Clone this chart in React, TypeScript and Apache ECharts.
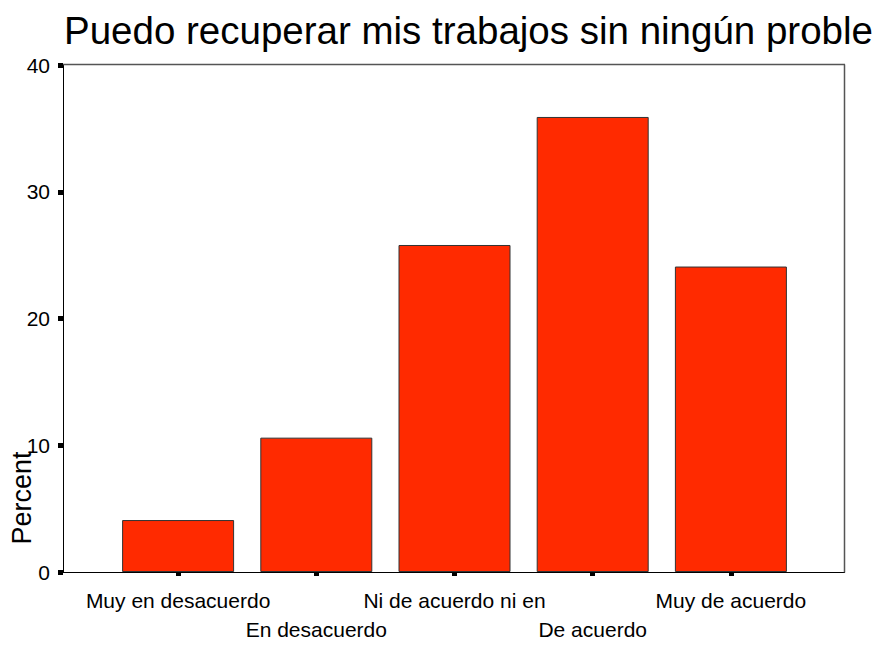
import React, { useEffect, useRef } from "react";
import * as echarts from "echarts";

const titleText = "Puedo recuperar mis trabajos sin ningún proble";
const categories = [
  "Muy en desacuerdo",
  "En desacuerdo",
  "Ni de acuerdo ni en",
  "De acuerdo",
  "Muy de acuerdo",
];
const percents = [4.1, 10.6, 25.8, 35.9, 24.1];
const yTicks = [0, 10, 20, 30, 40];
const yLabel = "Percent";

const FONT = "Arial, 'Liberation Sans', Helvetica, sans-serif";

export default function App() {
  const ref = useRef<HTMLDivElement>(null);
  useEffect(() => {
    if (!ref.current) return;
    const chart = echarts.init(ref.current, null, { renderer: "svg" });
    chart.setOption({
      animation: false,
      backgroundColor: "#ffffff",
      title: {
        text: titleText,
        left: 59,
        top: 6,
        textStyle: { fontFamily: FONT, fontSize: 38.5, fontWeight: "normal", color: "#000" },
      },
      grid: { left: 109, right: 87, top: 65, bottom: 75, containLabel: false, outerBoundsMode: "none" },
      xAxis: {
        type: "category",
        data: categories,
        axisLine: { show: false },
        axisTick: {
          show: true,
          alignWithLabel: true,
          length: 4,
          lineStyle: { color: "#000", width: 5 },
        },
        axisLabel: {
          interval: 0,
          fontFamily: FONT,
          fontSize: 21,
          color: "#000",
          margin: 14,
          lineHeight: 29,
          formatter: (v: string, i: number) => (i % 2 ? "\n" + v : v),
        },
      },
      yAxis: {
        type: "value",
        min: yTicks[0],
        max: yTicks[yTicks.length - 1],
        interval: 10,
        offset: 46,
        splitLine: { show: false },
        axisLine: { show: true, lineStyle: { color: "#000", width: 1 } },
        axisTick: { show: true, length: 5, lineStyle: { color: "#000", width: 5 } },
        axisLabel: { fontFamily: FONT, fontSize: 21, color: "#000", margin: 13 },
      },
      graphic: [
        { type: "line", shape: { x1: 63, y1: 572.5, x2: 845, y2: 572.5 }, style: { stroke: "#000", lineWidth: 1 }, z: 10 },
        { type: "line", shape: { x1: 63, y1: 64.5, x2: 845, y2: 64.5 }, style: { stroke: "#555", lineWidth: 1.5 }, z: 10 },
        { type: "line", shape: { x1: 844.5, y1: 64.5, x2: 844.5, y2: 572.5 }, style: { stroke: "#555", lineWidth: 1.5 }, z: 10 },
        {
          type: "text",
          x: 22,
          y: 498,
          rotation: Math.PI / 2,
          style: {
            text: yLabel,
            fontFamily: FONT,
            fontSize: 27,
            fill: "#000",
            align: "center",
            verticalAlign: "middle",
          },
          z: 10,
        },
      ],
      series: [
        {
          type: "bar",
          data: percents,
          barWidth: 112,
          itemStyle: { color: "#ff2a00", borderColor: "#333", borderWidth: 1 },
        },
      ],
    });
    return () => chart.dispose();
  }, []);
  return <div ref={ref} style={{ width: 887, height: 647, margin: -8 }} />;
}
